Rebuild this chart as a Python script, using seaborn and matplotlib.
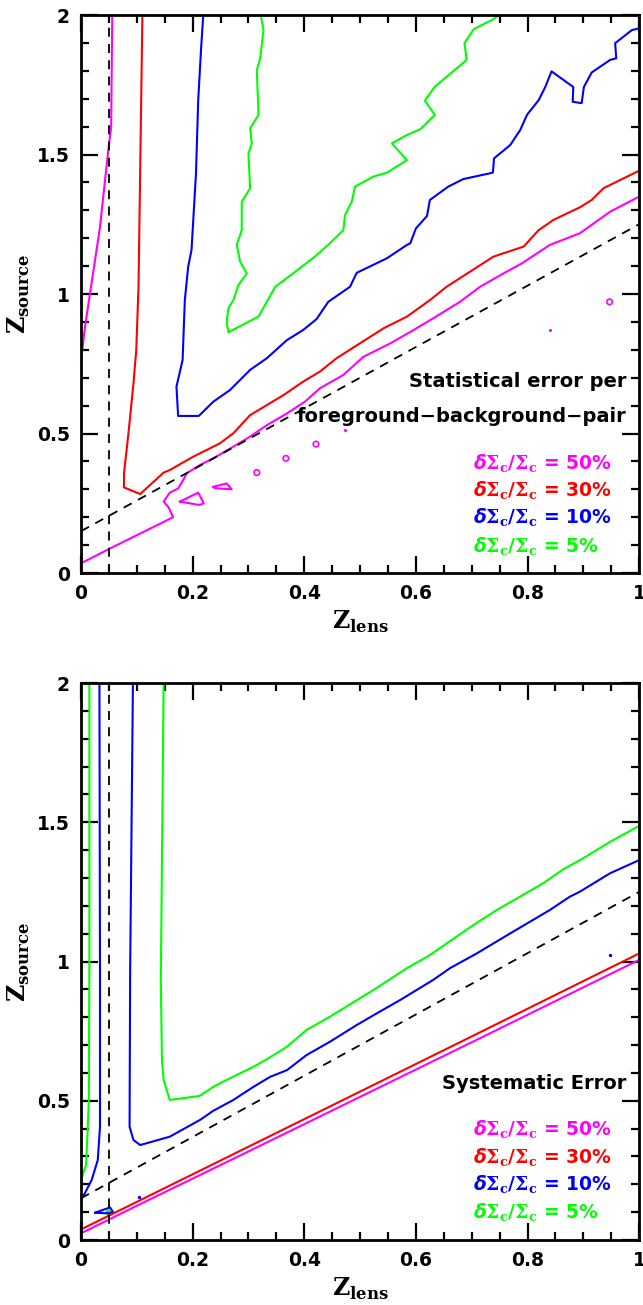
import numpy as np
import pandas as pd
import matplotlib
matplotlib.use("Agg")
import matplotlib.pyplot as plt
import seaborn as sns

# ---------------- data ----------------
# Top panel: statistical error contours
stat50_a_x = [0.056, 0.054, 0.048, 0.034, 0.007, 0.0]
stat50_a_y = [2.0, 1.6, 1.5, 1.24, 0.88, 0.76]
stat50_b_x = [0.0, 0.052, 0.165, 0.157, 0.148, 0.159, 0.174, 0.183, 0.189, 0.213, 0.237, 0.273,
              0.303, 0.333, 0.369, 0.401, 0.428, 0.470, 0.506, 0.554, 0.596, 0.631, 0.679,
              0.715, 0.757, 0.790, 0.840, 0.894, 0.948, 1.0]
stat50_b_y = [0.035, 0.088, 0.20, 0.235, 0.256, 0.288, 0.303, 0.333, 0.357, 0.387, 0.411, 0.453,
              0.489, 0.530, 0.572, 0.614, 0.662, 0.710, 0.775, 0.823, 0.871, 0.913, 0.972,
              1.026, 1.074, 1.110, 1.176, 1.218, 1.295, 1.349]
stat50_isl1_x = [0.177, 0.210, 0.220, 0.212, 0.177]
stat50_isl1_y = [0.256, 0.288, 0.250, 0.244, 0.256]
stat50_isl2_x = [0.237, 0.261, 0.270, 0.240, 0.237]
stat50_isl2_y = [0.309, 0.321, 0.300, 0.304, 0.309]
stat50_rings_x = [0.315, 0.367, 0.421, 0.947]
stat50_rings_y = [0.360, 0.411, 0.462, 0.972]
stat50_specks_x = [0.473, 0.840]
stat50_specks_y = [0.513, 0.871]
stat30_speck_x = [0.0]
stat30_speck_y = [0.055]

stat30_x = [0.110, 0.103, 0.099, 0.094, 0.085, 0.077, 0.077, 0.106, 0.148, 0.159, 0.201, 0.249,
            0.273, 0.303, 0.363, 0.398, 0.428, 0.458, 0.542, 0.584, 0.625, 0.655, 0.739,
            0.793, 0.820, 0.846, 0.894, 0.915, 0.936, 1.0]
stat30_y = [2.0, 1.026, 0.80, 0.680, 0.501, 0.357, 0.307, 0.283, 0.360, 0.369, 0.417, 0.465,
            0.501, 0.566, 0.638, 0.686, 0.722, 0.770, 0.877, 0.919, 0.978, 1.026, 1.134,
            1.170, 1.229, 1.265, 1.311, 1.337, 1.379, 1.442]

stat10_x = [0.219, 0.215, 0.210, 0.206, 0.198, 0.192, 0.186, 0.182, 0.171, 0.174, 0.211, 0.237,
            0.267, 0.303, 0.333, 0.369, 0.398, 0.422, 0.443, 0.482, 0.494, 0.548, 0.584,
            0.590, 0.600, 0.620, 0.625, 0.658, 0.685, 0.738, 0.740, 0.769, 0.787, 0.799,
            0.820, 0.832, 0.843, 0.882, 0.881, 0.897, 0.901, 0.915, 0.948, 0.959, 0.957,
            0.987, 1.0]
stat10_y = [2.0, 1.875, 1.695, 1.433, 1.158, 1.098, 0.978, 0.763, 0.668, 0.563, 0.563, 0.614,
            0.656, 0.728, 0.770, 0.835, 0.871, 0.910, 0.972, 1.026, 1.076, 1.128, 1.176,
            1.182, 1.235, 1.280, 1.337, 1.385, 1.412, 1.435, 1.486, 1.534, 1.588, 1.642,
            1.695, 1.743, 1.798, 1.742, 1.689, 1.684, 1.742, 1.794, 1.839, 1.845, 1.899,
            1.946, 1.952]

stat5_x = [0.322, 0.327, 0.321, 0.315, 0.318, 0.303, 0.306, 0.300, 0.303, 0.288, 0.288, 0.279,
           0.285, 0.297, 0.282, 0.273, 0.264, 0.261, 0.264, 0.318, 0.348, 0.380, 0.419,
           0.446, 0.470, 0.473, 0.485, 0.491, 0.524, 0.548, 0.584, 0.557, 0.584, 0.608,
           0.634, 0.616, 0.634, 0.691, 0.687, 0.704, 0.736, 0.750]
stat5_y = [2.0, 1.946, 1.845, 1.803, 1.642, 1.594, 1.540, 1.504, 1.379, 1.331, 1.229, 1.176,
           1.116, 1.074, 1.032, 0.978, 0.949, 0.900, 0.863, 0.919, 1.026, 1.074, 1.134,
           1.182, 1.229, 1.283, 1.331, 1.385, 1.421, 1.435, 1.480, 1.540, 1.570, 1.591,
           1.642, 1.693, 1.743, 1.839, 1.899, 1.950, 1.982, 2.0]

# Bottom panel: systematic error contours
sys50_x = [0.0, 0.1, 0.3, 0.5, 0.7, 1.0]
sys50_y = [0.024, 0.123, 0.318, 0.514, 0.710, 1.006]
sys30_x = [0.0, 0.1, 0.3, 0.5, 0.7, 1.0]
sys30_y = [0.038, 0.137, 0.335, 0.533, 0.731, 1.029]

sys10_a_x = [0.033, 0.034, 0.034, 0.030, 0.019, 0.003, 0.0]
sys10_a_y = [2.0, 0.958, 0.407, 0.287, 0.215, 0.153, 0.15]
sys10_b_x = [0.093, 0.088, 0.087, 0.094, 0.106, 0.159, 0.213, 0.237, 0.273, 0.309, 0.339, 0.369,
             0.404, 0.446, 0.494, 0.530, 0.572, 0.631, 0.661, 0.709, 0.769, 0.840, 0.876,
             0.894, 0.948, 1.0]
sys10_b_y = [2.0, 0.958, 0.407, 0.359, 0.341, 0.371, 0.431, 0.464, 0.503, 0.550, 0.586, 0.610,
             0.664, 0.712, 0.772, 0.814, 0.862, 0.934, 0.976, 1.029, 1.101, 1.185, 1.233,
             1.251, 1.317, 1.364]
sys10_isl_x = [0.025, 0.052, 0.058, 0.046, 0.025]
sys10_isl_y = [0.098, 0.117, 0.098, 0.096, 0.098]
sys10_dots_x = [0.103, 0.948, 0.999, 0.0]
sys10_dots_y = [0.156, 1.023, 1.075, 0.06]

sys5_a_x = [0.015, 0.015, 0.014, 0.012, 0.009, 0.0]
sys5_a_y = [2.0, 1.0, 0.5, 0.4, 0.27, 0.215]
sys5_b_x = [0.148, 0.143, 0.145, 0.148, 0.159, 0.212, 0.237, 0.261, 0.309, 0.333, 0.369, 0.404,
            0.446, 0.524, 0.584, 0.625, 0.703, 0.745, 0.828, 0.864, 0.900, 0.948, 1.0]
sys5_b_y = [2.0, 0.934, 0.646, 0.575, 0.503, 0.517, 0.550, 0.575, 0.622, 0.649, 0.694, 0.754,
            0.802, 0.898, 0.976, 1.023, 1.131, 1.185, 1.281, 1.331, 1.371, 1.430, 1.487]
sys5_dot_x = [0.049]
sys5_dot_y = [0.099]

# Reference lines
vline_x = [0.05, 0.05]
vline_y = [0.0, 2.0]
diag_x = [0.0, 1.0]
diag_y = [0.15, 1.25]

levels = ["50%", "30%", "10%", "5%"]
level_colors = ["#ff00ff", "#ff0000", "#0000ff", "#00ff00"]
xticks = [0, 0.2, 0.4, 0.6, 0.8, 1.0]
xticklabels = ["0", "0.2", "0.4", "0.6", "0.8", "1"]
yticks = [0, 0.5, 1.0, 1.5, 2.0]
yticklabels = ["0", "0.5", "1", "1.5", "2"]

# ---------------- styling ----------------
sns.set_theme(style="ticks")
plt.rcParams["font.family"] = ["DejaVu Sans"]
plt.rcParams["text.color"] = "black"
plt.rcParams["axes.labelcolor"] = "black"
plt.rcParams["xtick.color"] = "black"
plt.rcParams["ytick.color"] = "black"
plt.rcParams["mathtext.fontset"] = "custom"
plt.rcParams["mathtext.rm"] = "DejaVu Serif:bold"
plt.rcParams["mathtext.it"] = "DejaVu Sans:italic:bold"
plt.rcParams["mathtext.bf"] = "DejaVu Sans:bold"

fig = plt.figure(figsize=(6.43, 13.05), dpi=100)
ax1 = fig.add_axes([0.126, 0.5609, 0.868, 0.4276])
ax2 = fig.add_axes([0.126, 0.0498, 0.868, 0.4268])

LW = 1.5


def line(ax, x, y, color, **kw):
    sns.lineplot(x=x, y=y, sort=False, estimator=None, color=color, lw=kw.pop("lw", LW),
                 ax=ax, legend=False, **kw)


def dots(ax, x, y, color, s=8):
    sns.scatterplot(x=x, y=y, color=color, s=s, marker="o", linewidth=0, ax=ax, legend=False)


# top panel
line(ax1, stat5_x, stat5_y, level_colors[3])
line(ax1, stat10_x, stat10_y, level_colors[2])
line(ax1, stat30_x, stat30_y, level_colors[1])
line(ax1, stat50_a_x, stat50_a_y, level_colors[0])
line(ax1, stat50_b_x, stat50_b_y, level_colors[0])
line(ax1, stat50_isl1_x, stat50_isl1_y, level_colors[0])
line(ax1, stat50_isl2_x, stat50_isl2_y, level_colors[0])
sns.scatterplot(x=stat50_rings_x, y=stat50_rings_y, ax=ax1, s=16, marker="o",
                facecolor="none", edgecolor=level_colors[0], linewidth=1.2, legend=False)
dots(ax1, stat50_specks_x, stat50_specks_y, level_colors[0], s=5)
dots(ax1, stat30_speck_x, stat30_speck_y, level_colors[1], s=6)

# bottom panel
line(ax2, sys5_a_x, sys5_a_y, level_colors[3])
line(ax2, sys5_b_x, sys5_b_y, level_colors[3])
line(ax2, sys10_a_x, sys10_a_y, level_colors[2])
line(ax2, sys10_b_x, sys10_b_y, level_colors[2])
line(ax2, sys10_isl_x, sys10_isl_y, level_colors[2])
dots(ax2, sys10_dots_x, sys10_dots_y, level_colors[2], s=6)
dots(ax2, sys5_dot_x, sys5_dot_y, level_colors[3], s=18)
line(ax2, sys30_x, sys30_y, level_colors[1])
line(ax2, sys50_x, sys50_y, level_colors[0])

for ax in (ax1, ax2):
    line(ax, vline_x, vline_y, "black", lw=1.3, linestyle=(0, (5, 4)))
    line(ax, diag_x, diag_y, "black", lw=1.3, linestyle=(0, (5, 4)))
    ax.set_xlim(0, 1)
    ax.set_ylim(0, 2)
    ax.set_xticks(xticks)
    ax.set_xticklabels(xticklabels)
    ax.set_yticks(yticks)
    ax.set_yticklabels(yticklabels)
    ax.xaxis.set_minor_locator(matplotlib.ticker.MultipleLocator(0.05))
    ax.yaxis.set_minor_locator(matplotlib.ticker.MultipleLocator(0.1))
    ax.tick_params(which="both", direction="in", top=True, right=True, width=1.6, color="black")
    ax.tick_params(which="major", length=12, labelsize=13.5, pad=8)
    ax.tick_params(which="minor", length=6)
    for lab in ax.get_xticklabels() + ax.get_yticklabels():
        lab.set_fontweight("bold")
    for sp in ax.spines.values():
        sp.set_visible(True)
        sp.set_linewidth(2.0)
        sp.set_color("black")
    ax.set_xlabel(r"$\mathrm{Z}_{\mathrm{lens}}$", fontsize=17, labelpad=4)
    ax.set_ylabel(r"$\mathrm{Z}_{\mathrm{source}}$", fontsize=17)
    ax.yaxis.set_label_coords(-0.088, 0.5)
    ax.set_facecolor("white")

# annotations
ax1.text(0.977, 0.686, "Statistical error per", ha="right", va="center",
         fontsize=14, fontweight="bold")
ax1.text(0.977, 0.560, "foreground\u2212background\u2212pair", ha="right", va="center",
         fontsize=14, fontweight="bold")
ax2.text(0.977, 0.563, "Systematic Error", ha="right", va="center",
         fontsize=14, fontweight="bold")

leg_y1 = [0.393, 0.293, 0.197, 0.095]
leg_y2 = [0.395, 0.295, 0.197, 0.097]
for lev, col, ya, yb in zip(levels, level_colors, leg_y1, leg_y2):
    lbl = r"$\delta\Sigma_{\mathrm{c}}/\Sigma_{\mathrm{c}}$ = " + lev
    ax1.text(0.703, ya, lbl, ha="left", va="center", color=col, fontsize=13.5,
             fontweight="bold")
    ax2.text(0.703, yb, lbl, ha="left", va="center", color=col, fontsize=13.5,
             fontweight="bold")

fig.savefig("out.png", dpi=100, facecolor="white")
